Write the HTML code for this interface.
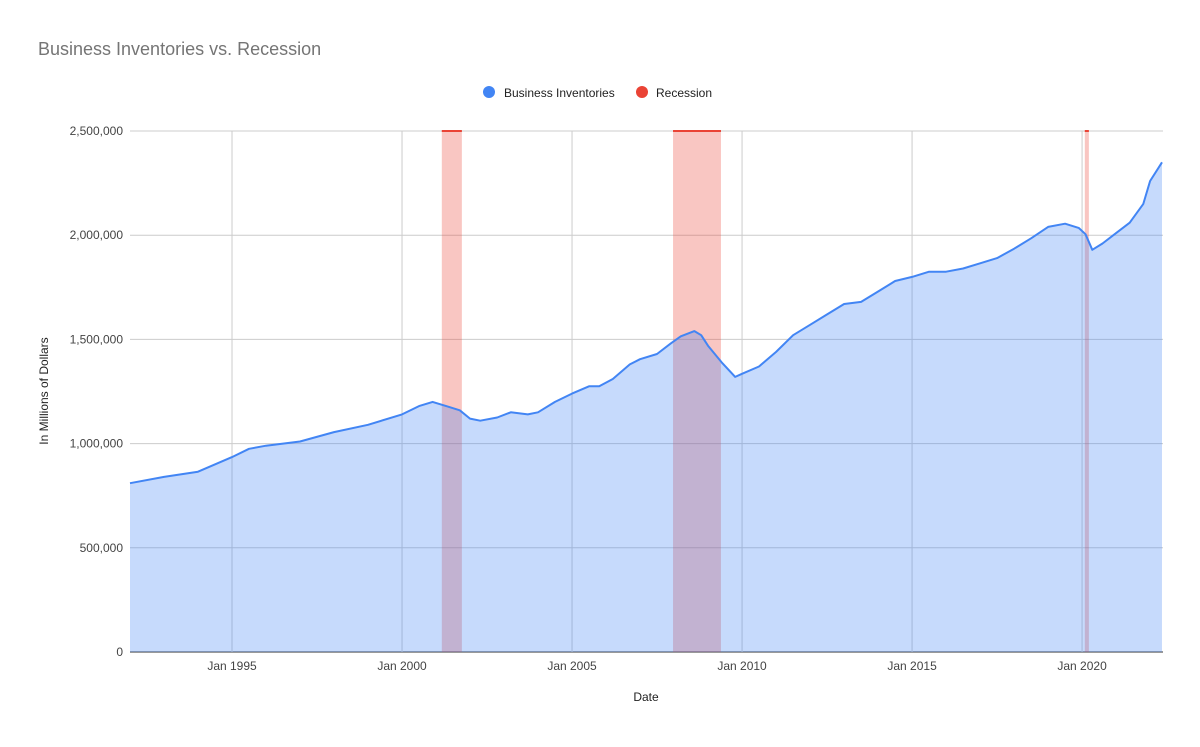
<!DOCTYPE html>
<html><head><meta charset="utf-8"><style>
body{margin:0;background:#fff;font-family:"Liberation Sans",Arial,sans-serif}
</style></head><body>
<svg id="chart" width="1200" height="742" xmlns="http://www.w3.org/2000/svg">
<text x="38" y="55" font-size="18" fill="#757575">Business Inventories vs. Recession</text>
<g>
<g><circle cx="489" cy="92" r="6" fill="#4285f4"/><text x="504" y="97" font-size="12" fill="#222">Business Inventories</text></g>
<g><circle cx="642" cy="92" r="6" fill="#ea4335"/><text x="656" y="97" font-size="12" fill="#222">Recession</text></g>
</g>
<g id="grid"></g>
<g id="rec"></g>
<g id="series"></g>
<g id="yt"></g>
<g id="xt"></g>
<text x="646" y="701" font-size="12" text-anchor="middle" fill="#222">Date</text>
<text transform="translate(48,391) rotate(-90)" font-size="12" text-anchor="middle" fill="#222">In Millions of Dollars</text>
</svg>
<script>
const dates=[1992.0,1993.0,1994.0,1995.0,1995.5,1996.0,1997.0,1998.0,1999.0,2000.0,2000.5,2000.9,2001.3,2001.7,2002.0,2002.3,2002.8,2003.2,2003.7,2004.0,2004.5,2005.0,2005.5,2005.8,2006.2,2006.7,2007.0,2007.5,2007.9,2008.2,2008.6,2008.8,2009.0,2009.4,2009.8,2010.0,2010.5,2011.0,2011.5,2012.0,2012.5,2013.0,2013.5,2014.0,2014.5,2015.0,2015.5,2016.0,2016.5,2017.0,2017.5,2018.0,2018.5,2019.0,2019.5,2019.9,2020.1,2020.3,2020.6,2021.0,2021.4,2021.8,2022.0,2022.35];
const inventories=[810,840,865,935,975,990,1010,1055,1090,1140,1180,1200,1180,1160,1120,1110,1125,1150,1140,1150,1200,1240,1275,1275,1310,1380,1405,1430,1480,1515,1540,1520,1470,1390,1320,1335,1370,1440,1520,1570,1620,1670,1680,1730,1780,1800,1825,1825,1840,1865,1890,1935,1985,2040,2055,2035,2005,1930,1960,2010,2060,2150,2260,2350];
const recStart=[2001.17,2007.97,2020.08];
const recEnd=[2001.76,2009.38,2020.2];
const yTicks=[0,500000,1000000,1500000,2000000,2500000];
const yLabels=["0","500,000","1,000,000","1,500,000","2,000,000","2,500,000"];
const xTicks=[1995,2000,2005,2010,2015,2020];
const xLabels=["Jan 1995","Jan 2000","Jan 2005","Jan 2010","Jan 2015","Jan 2020"];
const NS="http://www.w3.org/2000/svg";
const L=130,R=1163,T=131,B=652,x0=1992.0,x1=2022.38;
const X=d=>L+(d-x0)/(x1-x0)*(R-L);
const Y=v=>B-v/2500000*(B-T);
function mk(t,a,p){const e=document.createElementNS(NS,t);for(const k in a)e.setAttribute(k,a[k]);p.appendChild(e);return e;}
const grid=document.getElementById('grid'),yt=document.getElementById('yt'),xt=document.getElementById('xt');
yTicks.forEach((v,i)=>{const l=mk('line',{x1:L,x2:R,y1:Y(v),y2:Y(v),stroke:i==0?'#333':'#ccc','stroke-width':1},grid);

const t=mk('text',{x:123,y:Y(v)+4,'font-size':12,'text-anchor':'end',fill:'#444'},yt);t.textContent=yLabels[i];
});
xTicks.forEach((d,i)=>{const l=mk('line',{x1:X(d),x2:X(d),y1:T,y2:B,stroke:'#ccc','stroke-width':1},grid);

const t=mk('text',{x:X(d),y:670,'font-size':12,'text-anchor':'middle',fill:'#444'},xt);t.textContent=xLabels[i];
});
const rec=document.getElementById('rec');
recStart.forEach((s,i)=>{const w=Math.max(2,X(recEnd[i])-X(s));
const r=mk('rect',{x:X(s),y:T,width:w,height:B-T,fill:'#ea4335','fill-opacity':0.3},rec);

const l=mk('line',{x1:X(s),x2:X(s)+w,y1:T,y2:T,stroke:'#ea4335','stroke-width':2},rec);
});
const s=document.getElementById('series');
const pts=dates.map((d,i)=>X(d).toFixed(1)+','+Y(inventories[i]*1000).toFixed(1));
const a=mk('path',{d:'M'+X(dates[0])+','+B+' L'+pts.join(' L')+' L'+X(dates[dates.length-1])+','+B+' Z',fill:'#4285f4','fill-opacity':0.3},s);

const ln=mk('path',{d:'M'+pts.join(' L'),fill:'none',stroke:'#4285f4','stroke-width':2,'stroke-linejoin':'round'},s);

</script>
</body></html>
